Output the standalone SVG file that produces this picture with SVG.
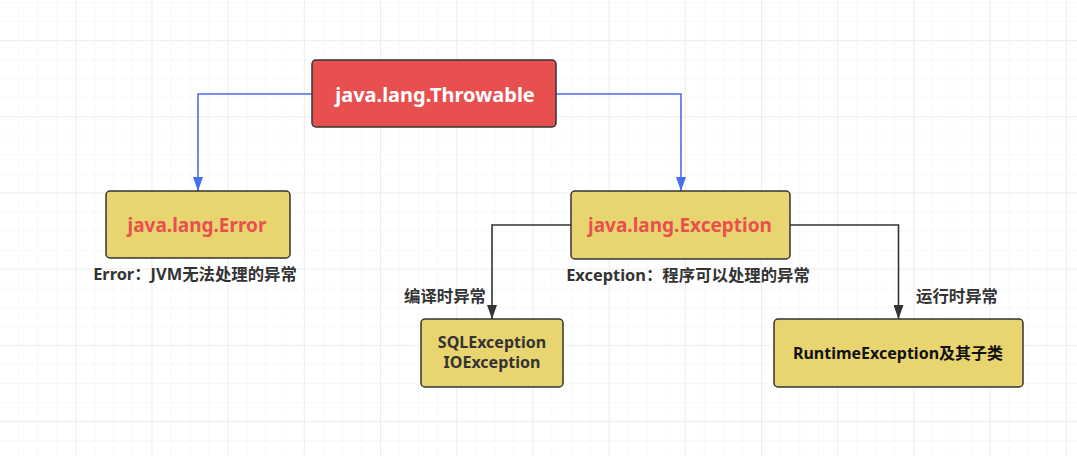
<svg xmlns="http://www.w3.org/2000/svg" width="1077" height="456" viewBox="0 0 1077 456">
<style>
.box{stroke:#333;stroke-width:1.5}
.red{fill:#E85050}
.yel{fill:#E9D56F}
.t{font-family:"Noto Sans","Noto Sans CJK SC",sans-serif;font-weight:bold;text-anchor:middle;dominant-baseline:central}
.lbl{font-family:"Noto Sans","Noto Sans CJK SC",sans-serif;font-weight:bold;font-size:16.4px;fill:#333;text-anchor:middle;dominant-baseline:central}
.blue{fill:none;stroke:#4A6CF0;stroke-width:1.6}
.dark{fill:none;stroke:#333;stroke-width:1.6}
</style>
<defs>
<pattern id="minor" width="19.05" height="19.05" patternUnits="userSpaceOnUse" x="0" y="3">
<path d="M19.05 0V19.05M0 19.05H19.05" fill="none" stroke="#f2f2f2" stroke-width="1"/>
</pattern>
<pattern id="major" width="76.2" height="76.2" patternUnits="userSpaceOnUse" x="0" y="41">
<path d="M76.2 0V76.2M0 76.2H76.2" fill="none" stroke="#e6e6e6" stroke-width="1.2"/>
</pattern>
<marker id="ab" markerWidth="14" markerHeight="10" refX="14" refY="5" orient="auto" markerUnits="userSpaceOnUse" viewBox="0 0 14 10">
<path d="M0 0L14 5L0 10Z" fill="#4A6CF0"/>
</marker>
<marker id="ad" markerWidth="14" markerHeight="10" refX="14" refY="5" orient="auto" markerUnits="userSpaceOnUse" viewBox="0 0 14 10">
<path d="M0 0L14 5L0 10Z" fill="#333"/>
</marker>
</defs>
<rect width="1077" height="456" fill="#fff"/>
<rect width="1077" height="456" fill="url(#minor)"/>
<rect width="1077" height="456" fill="url(#major)"/>
<g id="connectors">
<path class="blue" d="M312 94H198V191" marker-end="url(#ab)"/>
<path class="blue" d="M556 94H681V191" marker-end="url(#ab)"/>
<path class="dark" d="M571 225H492V319" marker-end="url(#ad)"/>
<path class="dark" d="M790 225H898.5V319" marker-end="url(#ad)"/>
</g>
<g id="throwable">
<rect class="box red" x="312" y="60" width="244" height="67" rx="4"/>
<text class="t" x="435" y="94" font-size="20" fill="#fff">java.lang.Throwable</text>
</g>
<g id="error">
<rect class="box yel" x="106" y="191" width="184" height="67" rx="4"/>
<text class="t" x="197" y="225" font-size="19" fill="#E85050">java.lang.Error</text>
<text class="lbl" x="195" y="273">Error：JVM无法处理的异常</text>
</g>
<g id="exception">
<rect class="box yel" x="571" y="191" width="219" height="68" rx="4"/>
<text class="t" x="680" y="225" font-size="19" fill="#E85050">java.lang.Exception</text>
<text class="lbl" x="688" y="274">Exception：程序可以处理的异常</text>
</g>
<g id="checked">
<text class="lbl" x="445" y="295">编译时异常</text>
<rect class="box yel" x="421" y="319" width="142" height="68" rx="4"/>
<text class="t" x="492" y="342" font-size="16" fill="#333">SQLException</text>
<text class="t" x="492" y="362" font-size="16" fill="#333">IOException</text>
</g>
<g id="runtime">
<text class="lbl" x="957" y="295">运行时异常</text>
<rect class="box yel" x="774" y="319" width="249" height="68" rx="4"/>
<text class="t" x="898" y="353" font-size="16" fill="#111">RuntimeException及其子类</text>
</g>
</svg>
